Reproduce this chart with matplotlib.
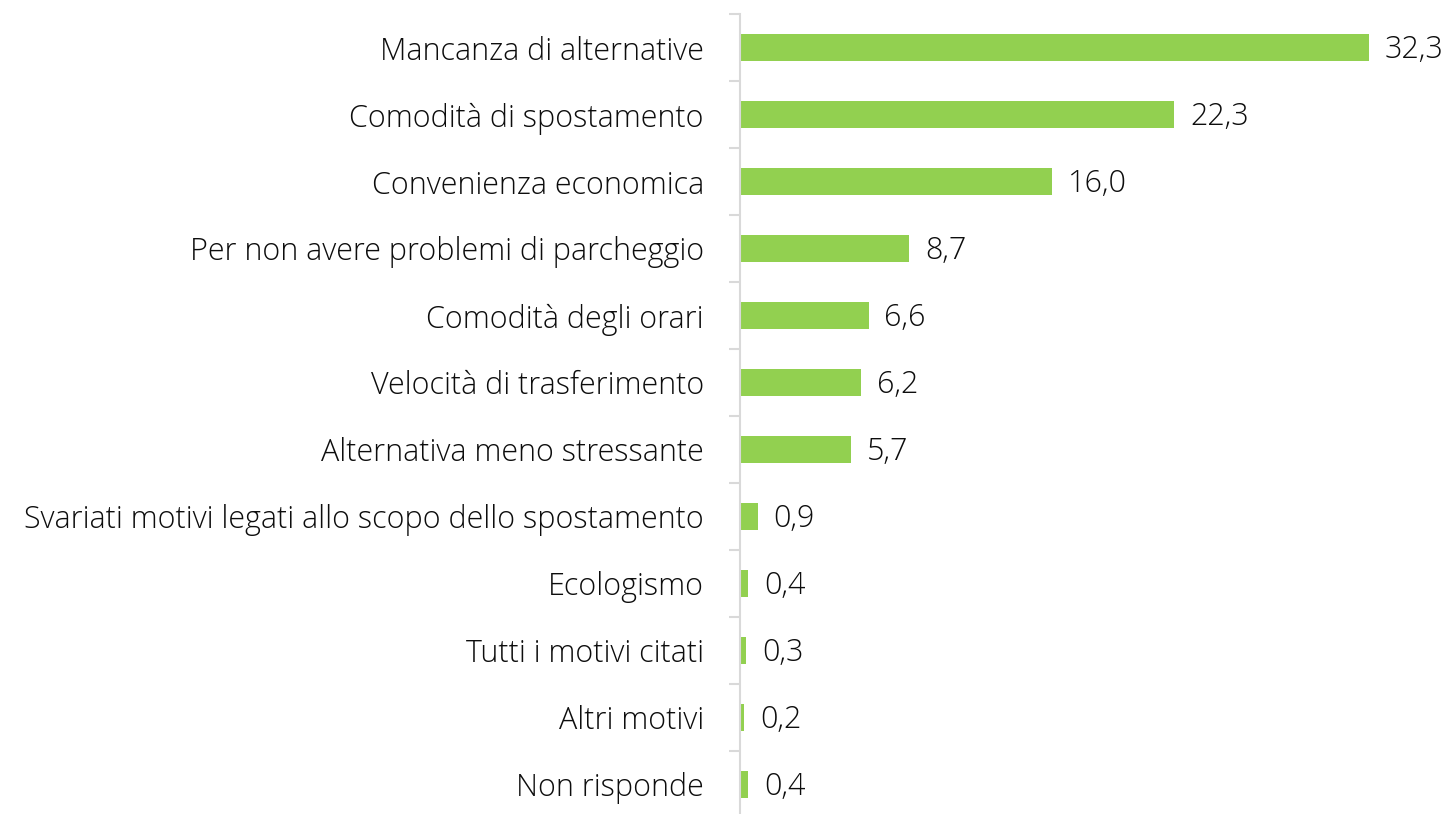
import matplotlib
matplotlib.use("Agg")
import matplotlib.pyplot as plt

categories = [
    "Mancanza di alternative",
    "Comodità di spostamento",
    "Convenienza economica",
    "Per non avere problemi di parcheggio",
    "Comodità degli orari",
    "Velocità di trasferimento",
    "Alternativa meno stressante",
    "Svariati motivi legati allo scopo dello spostamento",
    "Ecologismo",
    "Tutti i motivi citati",
    "Altri motivi",
    "Non risponde",
]
values = [32.3, 22.3, 16.0, 8.7, 6.6, 6.2, 5.7, 0.9, 0.4, 0.3, 0.2, 0.4]
value_labels = ["32,3", "22,3", "16,0", "8,7", "6,6", "6,2", "5,7", "0,9", "0,4", "0,3", "0,2", "0,4"]

W, H = 1448, 814
fig = plt.figure(figsize=(W / 100, H / 100), dpi=100)
left_px, right_px = 740, 1441
top_px, bot_px = 14, 818
ax = fig.add_axes([left_px / W, 1 - bot_px / H, (right_px - left_px) / W, (bot_px - top_px) / H])

font = dict(family="Open Sans", weight="light", size=22, color="#0d0d0d")
ypos = list(range(len(categories)))
ax.barh(ypos, values, height=0.4, color="#92d050")
ax.set_ylim(len(categories) - 0.5, -0.5)
ax.set_xlim(0, 36)

for y, v, lab in zip(ypos, values, value_labels):
    ax.annotate(lab, (v, y), xytext=(11.5, -1.5), textcoords="offset points",
                ha="left", va="center", **font)

ax.set_yticks(ypos)
ax.set_yticklabels(categories, **font)
ax.set_yticks([i - 0.5 for i in range(len(categories) + 1)], minor=True)
ax.tick_params(axis="y", which="major", length=0, pad=26)
ax.tick_params(axis="y", which="minor", length=8, width=1.5, color="#d9d9d9")
ax.set_xticks([])
for s in ["top", "right", "bottom"]:
    ax.spines[s].set_visible(False)
ax.spines["left"].set_color("#d9d9d9")
ax.spines["left"].set_linewidth(1.5)

fig.savefig("out.png", dpi=100)
